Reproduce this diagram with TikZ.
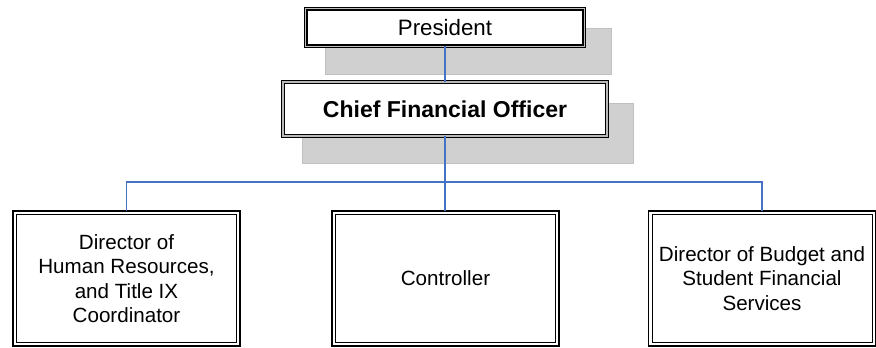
\documentclass[tikz,border=0pt]{standalone}
\usepackage{fontspec}
\setmainfont{Liberation Sans}
\definecolor{shadowfill}{RGB}{208,208,208}
\definecolor{shadowline}{RGB}{192,192,192}
\definecolor{linkblue}{RGB}{68,114,196}
\begin{document}
\begin{tikzpicture}[x=1pt,y=-1pt,
  every node/.style={outer sep=0pt, inner sep=2pt, align=center, fill=white},
  presbox/.style={draw=black, line width=1.6pt, double=gray!50, double distance=0.5pt,
    minimum width=278.6pt, minimum height=37.6pt, font=\fontsize{22.3}{26}\selectfont},
  cfobox/.style={draw=black, line width=1.3pt, double=gray!55, double distance=1.8pt,
    minimum width=323.6pt, minimum height=53.6pt, font=\fontsize{23}{26}\selectfont\bfseries},
  unitbox/.style={draw=black, line width=1.8pt, minimum width=227.2pt, minimum height=135.2pt,
    font=\fontsize{20.6}{24.5}\selectfont},
  shadowbox/.style={fill=shadowfill, draw=shadowline, line width=0.6pt},
  link/.style={draw=linkblue, line width=1.4pt}]
\useasboundingbox (0,0) rectangle (876,348);
% shadows
\path[shadowbox] (325,28) rectangle (611,74);
\path[shadowbox] (302,103) rectangle (633,163);
% boxes
\node[presbox] (pres) at (445,27.5) {President};
\node[cfobox] (cfo) at (445,109) {Chief Financial Officer};
\node[unitbox] (hr) at (126.5,278.5) {Director of\\Human Resources,\\and Title IX\\Coordinator};
\node[unitbox] (ctl) at (445.5,278.5) {Controller};
\node[unitbox] (bud) at (762,278.5) {Director of Budget and\\Student Financial\\Services};
\foreach \n in {hr,ctl,bud}
  \draw[line width=0.9pt] ([shift={(3.6pt,-3.6pt)}]\n.north west) rectangle ([shift={(-3.6pt,3.6pt)}]\n.south east);
% connectors
\coordinate (bus) at (445,182);
\draw[link] (pres.south) -- (cfo.north);
\draw[link] (cfo.south) -- (bus);
\draw[link] (hr.north) |- (bus) -| (bud.north);
\draw[link] (bus) -- (ctl.north -| bus);
\end{tikzpicture}
\end{document}
